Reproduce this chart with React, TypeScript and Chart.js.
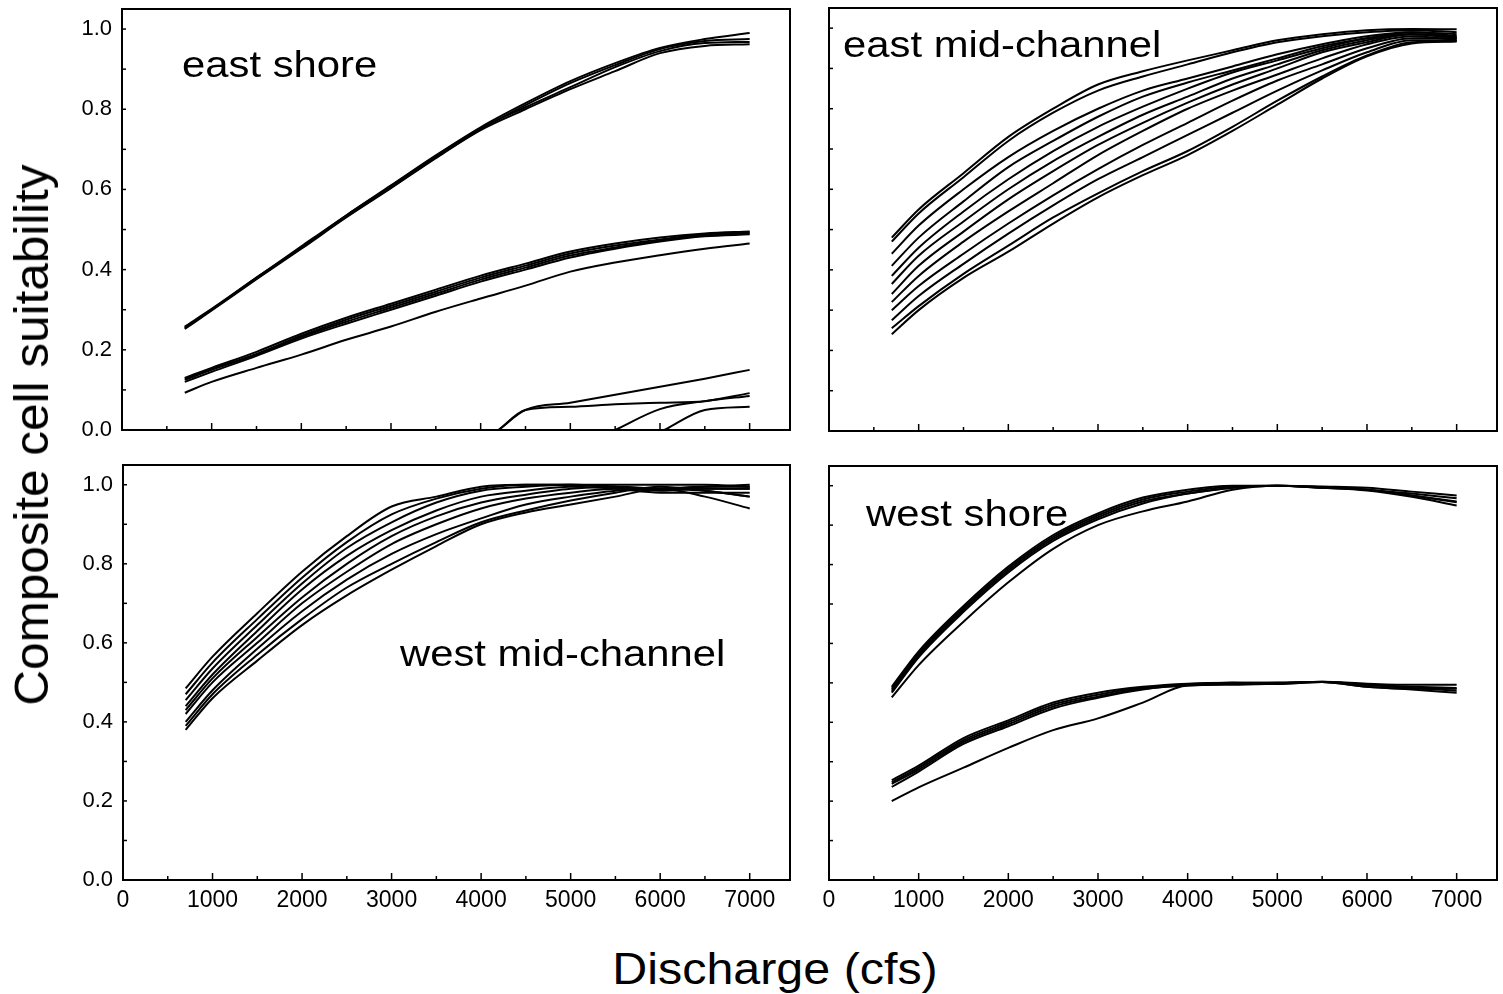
import React, { useEffect, useRef } from 'react';
import { Chart, registerables } from 'chart.js';
Chart.register(...registerables);

// ---------- data ----------
const discharge = [700, 1000, 1500, 2000, 2500, 3000, 3500, 4000, 4500, 5000, 5500, 6000, 6500, 7000];

// east shore
const esUpperA = [0.255, 0.300, 0.380, 0.455, 0.535, 0.610, 0.685, 0.755, 0.815, 0.870, 0.915, 0.953, 0.975, 0.990];
const esUpperB = [0.255, 0.300, 0.378, 0.455, 0.532, 0.605, 0.680, 0.750, 0.810, 0.865, 0.910, 0.950, 0.970, 0.975];
const esUpperC = [0.258, 0.302, 0.380, 0.458, 0.535, 0.608, 0.683, 0.752, 0.805, 0.855, 0.905, 0.945, 0.965, 0.968];
const esUpperD = [0.252, 0.298, 0.376, 0.452, 0.530, 0.603, 0.678, 0.748, 0.800, 0.850, 0.895, 0.940, 0.958, 0.962];
const esMidA = [0.130, 0.155, 0.195, 0.240, 0.280, 0.315, 0.350, 0.385, 0.415, 0.445, 0.465, 0.480, 0.490, 0.495];
const esMidB = [0.128, 0.152, 0.190, 0.235, 0.275, 0.310, 0.345, 0.380, 0.410, 0.440, 0.460, 0.475, 0.488, 0.493];
const esMidC = [0.125, 0.150, 0.188, 0.232, 0.270, 0.305, 0.340, 0.375, 0.405, 0.435, 0.455, 0.472, 0.485, 0.490];
const esMidD = [0.120, 0.145, 0.185, 0.228, 0.265, 0.300, 0.335, 0.370, 0.400, 0.430, 0.452, 0.470, 0.483, 0.488];
const esMidLow = [0.093, 0.120, 0.155, 0.188, 0.225, 0.258, 0.295, 0.328, 0.360, 0.395, 0.418, 0.436, 0.452, 0.465];
const esLowEx = [4200, 4500, 5000, 5750, 6500, 7000];
const esLowEy = [0, 0.050, 0.068, 0.098, 0.128, 0.150];
const esLowFx = [4200, 4500, 5000, 5500, 6000, 6500, 7000];
const esLowFy = [0, 0.050, 0.058, 0.064, 0.068, 0.072, 0.092];
const esLowGx = [5500, 6000, 6500, 7000];
const esLowGy = [0, 0.052, 0.072, 0.085];
const esLowHx = [6050, 6500, 7000];
const esLowHy = [0, 0.050, 0.058];

// east mid-channel
const emc1 = [0.480, 0.550, 0.640, 0.730, 0.800, 0.860, 0.893, 0.920, 0.945, 0.970, 0.985, 0.995, 0.998, 0.997];
const emc2 = [0.470, 0.540, 0.630, 0.720, 0.790, 0.845, 0.880, 0.910, 0.940, 0.965, 0.980, 0.990, 0.995, 0.990];
const emc3 = [0.440, 0.510, 0.600, 0.680, 0.745, 0.800, 0.845, 0.875, 0.905, 0.935, 0.960, 0.980, 0.990, 0.985];
const emc4 = [0.410, 0.480, 0.570, 0.655, 0.720, 0.780, 0.830, 0.865, 0.895, 0.925, 0.955, 0.975, 0.990, 0.980];
const emc5 = [0.385, 0.455, 0.545, 0.625, 0.695, 0.755, 0.805, 0.850, 0.890, 0.920, 0.950, 0.975, 0.985, 0.975];
const emc6 = [0.365, 0.435, 0.520, 0.600, 0.670, 0.730, 0.785, 0.830, 0.875, 0.910, 0.945, 0.970, 0.985, 0.980];
const emc7 = [0.340, 0.410, 0.495, 0.575, 0.645, 0.710, 0.765, 0.815, 0.860, 0.900, 0.940, 0.965, 0.985, 0.975];
const emc8 = [0.320, 0.385, 0.470, 0.545, 0.615, 0.685, 0.745, 0.800, 0.845, 0.885, 0.925, 0.960, 0.980, 0.970];
const emc9 = [0.300, 0.360, 0.440, 0.515, 0.585, 0.650, 0.710, 0.765, 0.820, 0.870, 0.910, 0.950, 0.975, 0.975];
const emc10 = [0.275, 0.335, 0.415, 0.490, 0.560, 0.625, 0.680, 0.735, 0.790, 0.845, 0.895, 0.940, 0.970, 0.970];
const emc11 = [0.255, 0.310, 0.390, 0.460, 0.530, 0.590, 0.645, 0.695, 0.755, 0.820, 0.880, 0.932, 0.965, 0.968];
const emc12 = [0.240, 0.300, 0.380, 0.445, 0.515, 0.580, 0.635, 0.685, 0.745, 0.810, 0.875, 0.930, 0.962, 0.967];

// west mid-channel
const wmc1 = [0.485, 0.565, 0.675, 0.780, 0.870, 0.945, 0.970, 0.995, 1.000, 1.000, 1.000, 1.000, 1.000, 0.995];
const wmc2 = [0.470, 0.550, 0.660, 0.765, 0.855, 0.925, 0.965, 0.990, 1.000, 1.000, 0.995, 0.990, 0.995, 1.000];
const wmc3 = [0.455, 0.535, 0.645, 0.750, 0.840, 0.905, 0.955, 0.985, 0.995, 1.000, 0.995, 0.985, 0.990, 0.990];
const wmc4 = [0.440, 0.520, 0.630, 0.735, 0.820, 0.885, 0.935, 0.970, 0.985, 0.995, 0.990, 0.980, 0.980, 0.980];
const wmc5 = [0.430, 0.510, 0.615, 0.715, 0.800, 0.870, 0.920, 0.955, 0.975, 0.990, 0.995, 0.990, 0.985, 0.970];
const wmc6 = [0.420, 0.500, 0.600, 0.700, 0.780, 0.850, 0.900, 0.940, 0.965, 0.980, 0.990, 0.990, 0.990, 0.990];
const wmc7 = [0.400, 0.480, 0.585, 0.680, 0.760, 0.825, 0.875, 0.915, 0.950, 0.970, 0.985, 0.990, 0.995, 0.995];
const wmc8 = [0.390, 0.470, 0.570, 0.660, 0.740, 0.800, 0.855, 0.905, 0.935, 0.960, 0.980, 0.995, 0.985, 0.970];
const wmc9 = [0.380, 0.460, 0.555, 0.645, 0.720, 0.785, 0.845, 0.900, 0.930, 0.950, 0.970, 0.990, 0.970, 0.940];

// west shore
const ws1 = [0.490, 0.580, 0.695, 0.795, 0.875, 0.930, 0.970, 0.990, 1.000, 1.000, 0.998, 0.995, 0.985, 0.975];
const ws2 = [0.485, 0.575, 0.690, 0.790, 0.870, 0.925, 0.965, 0.985, 0.998, 1.000, 0.997, 0.990, 0.980, 0.968];
const ws3 = [0.480, 0.570, 0.685, 0.785, 0.865, 0.920, 0.960, 0.980, 0.995, 1.000, 0.995, 0.990, 0.975, 0.958];
const ws4 = [0.475, 0.565, 0.680, 0.780, 0.860, 0.915, 0.955, 0.980, 0.995, 1.000, 0.995, 0.988, 0.972, 0.950];
const ws5 = [0.463, 0.545, 0.655, 0.755, 0.840, 0.900, 0.935, 0.960, 0.990, 1.000, 0.995, 0.990, 0.975, 0.960];
const wsLow1 = [0.253, 0.290, 0.360, 0.405, 0.450, 0.475, 0.490, 0.498, 0.500, 0.500, 0.503, 0.498, 0.495, 0.495];
const wsLow2 = [0.248, 0.285, 0.355, 0.400, 0.445, 0.470, 0.488, 0.495, 0.500, 0.500, 0.503, 0.495, 0.490, 0.487];
const wsLow3 = [0.244, 0.280, 0.350, 0.395, 0.440, 0.465, 0.485, 0.493, 0.498, 0.500, 0.502, 0.495, 0.487, 0.480];
const wsLow4 = [0.236, 0.275, 0.345, 0.390, 0.435, 0.462, 0.483, 0.495, 0.500, 0.497, 0.502, 0.490, 0.483, 0.475];
const wsLow5 = [0.200, 0.235, 0.285, 0.335, 0.380, 0.410, 0.450, 0.493, 0.495, 0.498, 0.502, 0.490, 0.485, 0.485];

// axes
const xTickLabels = [0, 1000, 2000, 3000, 4000, 5000, 6000, 7000];
const xMinorTicks = [500, 1500, 2500, 3500, 4500, 5500, 6500];
const yTickLabels = [0, 0.2, 0.4, 0.6, 0.8, 1.0];
const yMinorTicks = [0.1, 0.3, 0.5, 0.7, 0.9];
const X_MAX = 7450;
const Y_MAX = 1.05;

type Series = [number[], number[]];

const panels: {
  key: string;
  label: string;
  rect: [number, number, number, number];
  labelPos: [number, number];
  showX: boolean;
  showY: boolean;
  series: Series[];
}[] = [
  {
    key: 'es', label: 'east shore', rect: [122, 9, 790, 430], labelPos: [182, 46], showX: false, showY: true,
    series: [
      [discharge, esUpperA], [discharge, esUpperB], [discharge, esUpperC], [discharge, esUpperD],
      [discharge, esMidA], [discharge, esMidB], [discharge, esMidC], [discharge, esMidD], [discharge, esMidLow],
      [esLowEx, esLowEy], [esLowFx, esLowFy], [esLowGx, esLowGy], [esLowHx, esLowHy],
    ],
  },
  {
    key: 'emc', label: 'east mid-channel', rect: [829, 8, 1497, 431], labelPos: [843, 26], showX: false, showY: false,
    series: [emc1, emc2, emc3, emc4, emc5, emc6, emc7, emc8, emc9, emc10, emc11, emc12].map((s) => [discharge, s] as Series),
  },
  {
    key: 'wmc', label: 'west mid-channel', rect: [123, 465, 790, 880], labelPos: [400, 635], showX: true, showY: true,
    series: [wmc1, wmc2, wmc3, wmc4, wmc5, wmc6, wmc7, wmc8, wmc9].map((s) => [discharge, s] as Series),
  },
  {
    key: 'ws', label: 'west shore', rect: [829, 466, 1497, 880], labelPos: [866, 495], showX: true, showY: false,
    series: [ws1, ws2, ws3, ws4, ws5, wsLow1, wsLow2, wsLow3, wsLow4, wsLow5].map((s) => [discharge, s] as Series),
  },
];

const Y_AXIS_W = 70;
const PAD_TOP = 6;
const PAD_RIGHT = 8;
const FONT = '"Liberation Sans", Arial, Helvetica, sans-serif';

const framePlugin = {
  id: 'frame',
  afterDraw(chart: any) {
    const { ctx, chartArea: a, scales } = chart;
    ctx.save();
    ctx.strokeStyle = '#000';
    ctx.lineWidth = 1.5;
    const seg = (x1: number, y1: number, x2: number, y2: number) => {
      ctx.beginPath();
      ctx.moveTo(x1, y1);
      ctx.lineTo(x2, y2);
      ctx.stroke();
    };
    xTickLabels.forEach((v) => {
      const px = scales.x.getPixelForValue(v);
      seg(px, a.bottom, px, a.bottom - 7);
    });
    xMinorTicks.forEach((v) => {
      const px = scales.x.getPixelForValue(v);
      seg(px, a.bottom, px, a.bottom - 4);
    });
    [...yTickLabels, ...yMinorTicks].forEach((v) => {
      const py = scales.y.getPixelForValue(v);
      seg(a.left, py, a.left + 4, py);
    });
    ctx.lineWidth = 2;
    ctx.strokeRect(a.left, a.top, a.right - a.left, a.bottom - a.top);
    ctx.restore();
  },
};

function Panel({ p }: { p: (typeof panels)[number] }) {
  const ref = useRef<HTMLCanvasElement | null>(null);
  const [L, T, R, B] = p.rect;
  const xh = p.showX ? 40 : 16;
  const width = R - L + Y_AXIS_W + PAD_RIGHT;
  const height = B - T + PAD_TOP + xh;

  useEffect(() => {
    if (!ref.current) return;
    const chart = new Chart(ref.current, {
      type: 'line',
      data: {
        datasets: p.series.map(([xs, ys]) => ({
          data: xs.map((x, i) => ({ x, y: ys[i] })),
          borderColor: '#000',
          borderWidth: 2,
          pointRadius: 0,
          cubicInterpolationMode: 'monotone',
          fill: false,
        })),
      },
      options: {
        responsive: false,
        animation: false,
        devicePixelRatio: 1,
        layout: { padding: { top: PAD_TOP, right: PAD_RIGHT, left: 0, bottom: 0 } },
        plugins: { legend: { display: false }, tooltip: { enabled: false } },
        events: [],
        scales: {
          x: {
            type: 'linear',
            min: 0,
            max: X_MAX,
            grid: { display: false, drawTicks: false },
            border: { display: false },
            ticks: {
              display: p.showX,
              autoSkip: false,
              maxRotation: 0,
              padding: 7,
              color: '#000',
              font: { family: FONT, size: 23 },
              callback: (v: any) => String(v),
            },
            afterBuildTicks: (s: any) => {
              s.ticks = xTickLabels.map((v) => ({ value: v }));
            },
            afterFit: (s: any) => {
              s.height = xh;
              s.paddingLeft = 0;
              s.paddingRight = 0;
            },
          },
          y: {
            type: 'linear',
            min: 0,
            max: Y_MAX,
            grid: { display: false, drawTicks: false },
            border: { display: false },
            ticks: {
              display: p.showY,
              autoSkip: false,
              padding: 10,
              color: '#000',
              font: { family: FONT, size: 22 },
              callback: (v: any) => Number(v).toFixed(1),
            },
            afterBuildTicks: (s: any) => {
              s.ticks = yTickLabels.map((v) => ({ value: v }));
            },
            afterFit: (s: any) => {
              s.width = Y_AXIS_W;
              s.paddingTop = 0;
              s.paddingBottom = 0;
            },
          },
        },
      },
      plugins: [framePlugin],
    } as any);
    return () => chart.destroy();
  }, []);

  return (
    <>
      <canvas
        ref={ref}
        width={width}
        height={height}
        style={{ position: 'absolute', left: L - Y_AXIS_W, top: T - PAD_TOP, width, height }}
      />
      <div
        style={{
          position: 'absolute',
          left: p.labelPos[0],
          top: p.labelPos[1],
          fontFamily: FONT,
          fontSize: 37,
          lineHeight: 1,
          whiteSpace: 'nowrap',
          transform: 'scaleX(1.13)',
          transformOrigin: 'left top',
          color: '#000',
        }}
      >
        {p.label}
      </div>
    </>
  );
}

export default function App() {
  return (
    <div
      style={{
        position: 'absolute',
        left: 0,
        top: 0,
        width: 1503,
        height: 994,
        background: '#fff',
        overflow: 'hidden',
      }}
    >
      {panels.map((p) => (
        <Panel key={p.key} p={p} />
      ))}
      <div
        style={{
          position: 'absolute',
          left: 32,
          top: 435,
          fontFamily: FONT,
          fontSize: 48,
          lineHeight: 1,
          whiteSpace: 'nowrap',
          color: '#000',
          transform: 'translate(-50%, -50%) rotate(-90deg) scaleX(1.03)',
        }}
      >
        Composite cell suitability
      </div>
      <div
        style={{
          position: 'absolute',
          left: 775,
          top: 947,
          fontFamily: FONT,
          fontSize: 44,
          lineHeight: 1,
          whiteSpace: 'nowrap',
          color: '#000',
          transform: 'translateX(-50%) scaleX(1.1)',
        }}
      >
        Discharge (cfs)
      </div>
    </div>
  );
}
